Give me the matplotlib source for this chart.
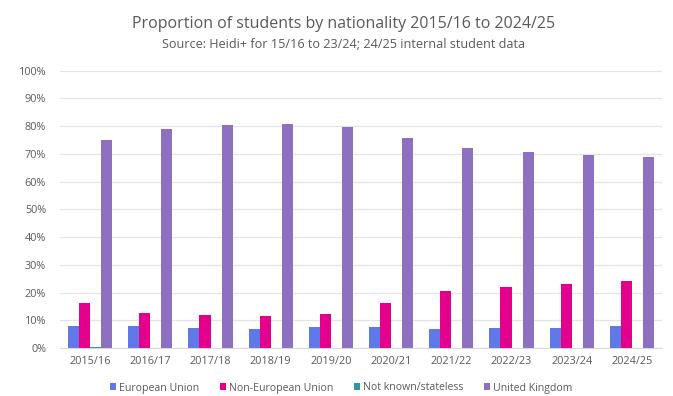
import matplotlib
matplotlib.use('Agg')
import matplotlib.pyplot as plt
import numpy as np

plt.rcParams['font.family'] = ['Open Sans', 'DejaVu Sans']

years = ['2015/16', '2016/17', '2017/18', '2018/19', '2019/20',
         '2020/21', '2021/22', '2022/23', '2023/24', '2024/25']
eu = [8.1, 8.1, 7.3, 7.0, 7.7, 7.6, 7.0, 7.1, 7.2, 7.9]
non_eu = [16.2, 12.5, 11.8, 11.5, 12.3, 16.3, 20.4, 21.9, 23.1, 24.0]
not_known = [0.3, 0.1, 0.1, 0.1, 0.1, 0.1, 0.1, 0.1, 0.1, 0.1]
uk = [74.9, 79.0, 80.4, 80.9, 79.7, 75.6, 72.2, 70.8, 69.5, 68.9]

series = [
    ('European Union', eu, '#6178E8'),
    ('Non-European Union', non_eu, '#E3008C'),
    ('Not known/stateless', not_known, '#2A9D98'),
    ('United Kingdom', uk, '#8E70C0'),
]

fig = plt.figure(figsize=(6.73, 3.96), dpi=100)
ax = fig.add_axes([60 / 673, 1 - 348 / 396, 602 / 673, (348 - 70.7) / 396])

x = np.arange(len(years))
w = 0.183
for i, (name, vals, color) in enumerate(series):
    ax.bar(x + (i - 1.5) * w, vals, width=w, color=color, label=name, zorder=3)

ax.set_xlim(-0.5, len(years) - 0.5)
ax.set_ylim(0, 100)
ax.set_yticks(np.arange(0, 101, 10))
ax.set_yticklabels([f'{v}%' for v in range(0, 101, 10)])
ax.set_xticks(x)
ax.set_xticklabels(years)
ax.tick_params(axis='both', length=0, labelsize=7.8, colors='#595959')
ax.tick_params(axis='y', pad=10)
ax.tick_params(axis='x', pad=6)
ax.grid(axis='y', color='#e3e3e3', linewidth=0.9, zorder=0)
for s in ['top', 'right', 'left']:
    ax.spines[s].set_visible(False)
ax.spines['bottom'].set_color('#d9d9d9')

fig.text(0.51, 1 - 24 / 396, 'Proportion of students by nationality 2015/16 to 2024/25',
         ha='center', va='center', fontsize=11.5, color='#595959')
fig.text(0.51, 1 - 45 / 396, 'Source: Heidi+ for 15/16 to 23/24; 24/25 internal student data',
         ha='center', va='center', fontsize=9.1, color='#595959')

fig.legend(loc='center', bbox_to_anchor=(0.507, 1 - 388 / 396), ncol=4, frameon=False,
           fontsize=7.6, handlelength=0.6, handleheight=0.6, handletextpad=0.3,
           columnspacing=1.9, labelcolor='#595959')

plt.savefig('out.png', dpi=100)
plt.close()
